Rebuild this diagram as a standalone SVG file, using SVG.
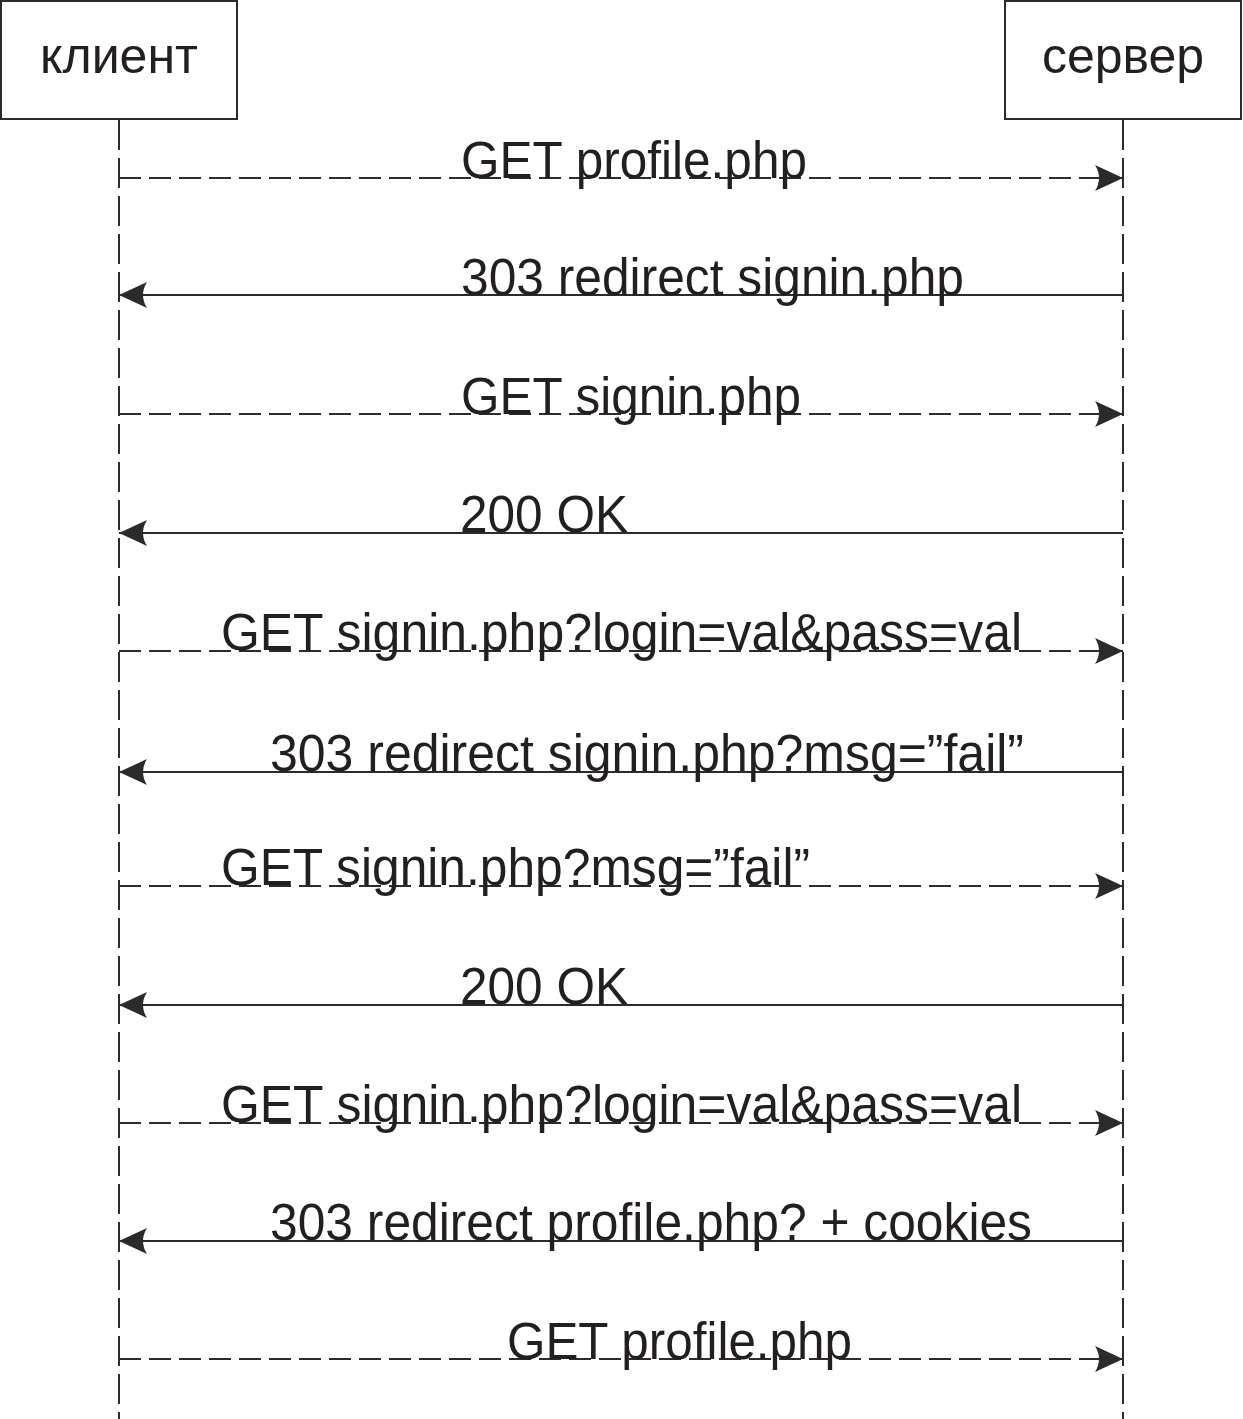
<svg xmlns="http://www.w3.org/2000/svg" width="1243" height="1419" viewBox="0 0 1243 1419">
<style>
.box{fill:#fff;stroke:#2b2b2b;stroke-width:2}
.life{stroke:#2b2b2b;stroke-width:2;stroke-dasharray:30 8;fill:none}
.req{stroke:#2b2b2b;stroke-width:2;stroke-dasharray:22 8;fill:none}
.resp{stroke:#2b2b2b;stroke-width:2;fill:none}
.t{font-family:"Liberation Sans",Arial,sans-serif;font-size:51px;fill:#231f20}
.h{font-family:"Liberation Sans",Arial,sans-serif;font-size:50px;fill:#231f20;text-anchor:middle}
</style>
<defs>
<marker id="ah" viewBox="0 0 28 26" refX="28" refY="13" markerWidth="28" markerHeight="26" markerUnits="userSpaceOnUse" orient="auto">
<path d="M28,13 L0,0 Q8,13 0,26 Z" fill="#2b2b2b"/>
</marker>
</defs>
<rect width="1243" height="1419" fill="#fff"/>
<g id="client">
<rect class="box" x="1" y="1" width="236" height="118"/>
<text class="h" x="119" y="73">клиент</text>
</g>
<g id="server">
<rect class="box" x="1005" y="1" width="236" height="118"/>
<text class="h" x="1123" y="73">сервер</text>
</g>
<g id="lifelines">
<line class="life" x1="119" y1="120" x2="119" y2="1419"/>
<line class="life" x1="1123" y1="120" x2="1123" y2="1419"/>
</g>
<g id="connectors">
<line class="req" x1="119" y1="178" x2="1123" y2="178" marker-end="url(#ah)"/>
<line class="resp" x1="1123" y1="295" x2="119" y2="295" marker-end="url(#ah)"/>
<line class="req" x1="119" y1="414" x2="1123" y2="414" marker-end="url(#ah)"/>
<line class="resp" x1="1123" y1="533" x2="119" y2="533" marker-end="url(#ah)"/>
<line class="req" x1="119" y1="651" x2="1123" y2="651" marker-end="url(#ah)"/>
<line class="resp" x1="1123" y1="772" x2="119" y2="772" marker-end="url(#ah)"/>
<line class="req" x1="119" y1="886" x2="1123" y2="886" marker-end="url(#ah)"/>
<line class="resp" x1="1123" y1="1005" x2="119" y2="1005" marker-end="url(#ah)"/>
<line class="req" x1="119" y1="1123" x2="1123" y2="1123" marker-end="url(#ah)"/>
<line class="resp" x1="1123" y1="1241" x2="119" y2="1241" marker-end="url(#ah)"/>
<line class="req" x1="119" y1="1359" x2="1123" y2="1359" marker-end="url(#ah)"/>
</g>
<g id="labels">
<text class="t" x="461" y="178" textLength="346" lengthAdjust="spacingAndGlyphs">GET profile.php</text>
<text class="t" x="461" y="295" textLength="503" lengthAdjust="spacingAndGlyphs">303 redirect signin.php</text>
<text class="t" x="461" y="414" textLength="340" lengthAdjust="spacingAndGlyphs">GET signin.php</text>
<text class="t" x="460" y="532" textLength="168" lengthAdjust="spacingAndGlyphs">200 OK</text>
<text class="t" x="221" y="650" textLength="801" lengthAdjust="spacingAndGlyphs">GET signin.php?login=val&amp;pass=val</text>
<text class="t" x="270" y="771" textLength="754" lengthAdjust="spacingAndGlyphs">303 redirect signin.php?msg=”fail”</text>
<text class="t" x="221" y="885" textLength="589" lengthAdjust="spacingAndGlyphs">GET signin.php?msg=”fail”</text>
<text class="t" x="460" y="1004" textLength="168" lengthAdjust="spacingAndGlyphs">200 OK</text>
<text class="t" x="221" y="1122" textLength="801" lengthAdjust="spacingAndGlyphs">GET signin.php?login=val&amp;pass=val</text>
<text class="t" x="270" y="1240" textLength="762" lengthAdjust="spacingAndGlyphs">303 redirect profile.php? + cookies</text>
<text class="t" x="507" y="1359" textLength="345" lengthAdjust="spacingAndGlyphs">GET profile.php</text>
</g>
</svg>
